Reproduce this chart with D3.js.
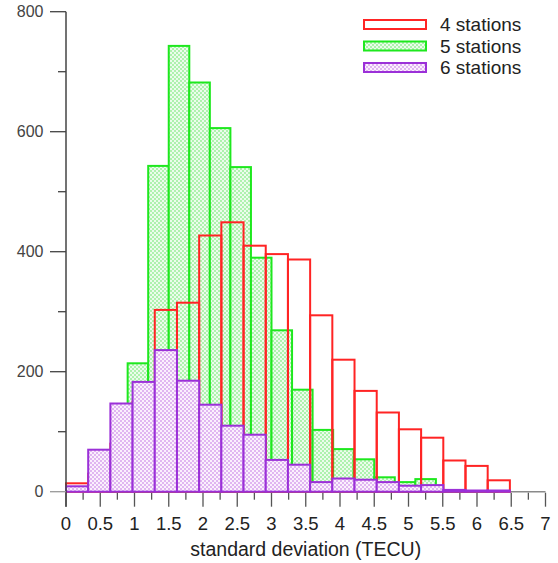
<!DOCTYPE html>
<html>
<head>
<meta charset="utf-8">
<script src="https://cdn.jsdelivr.net/npm/d3@7"></script>
<style>
  html, body { margin: 0; padding: 0; background: #fff; }
  svg { display: block; }
  text { font-family: "Liberation Sans", Arial, sans-serif; }
</style>
</head>
<body>
<svg id="chart" width="558" height="563"></svg>
<script>
// ---- data ----
const edges4and6 = [0, 0.324, 0.648, 0.972, 1.296, 1.62, 1.944, 2.268, 2.592, 2.916, 3.24,
                    3.564, 3.888, 4.212, 4.536, 4.86, 5.184, 5.508, 5.832, 6.156, 6.48];
const edges5 = [0.6, 0.9, 1.2, 1.5, 1.8, 2.1, 2.4, 2.7, 3.0, 3.3, 3.6, 3.9, 4.2, 4.5, 4.8,
                5.1, 5.4, 5.7, 6.0, 6.3];
const stations4 = [14, 30, 80, 150, 303, 315, 427, 449, 410, 396, 387, 294, 220, 168, 132, 104, 90, 52, 43, 19];
const stations5 = [2, 214, 543, 743, 682, 606, 541, 390, 269, 170, 103, 71, 54, 24, 16, 21, 1, 1, 1];
const stations6 = [9, 70, 147, 183, 236, 185, 145, 110, 95, 53, 45, 16, 22, 20, 16, 10, 11, 3, 2, 2];
const seriesNames = ["4 stations", "5 stations", "6 stations"];
const xTickValues = d3.range(0, 7.001, 0.25);
const xTickLabels = ["0", "0.5", "1", "1.5", "2", "2.5", "3", "3.5", "4", "4.5", "5", "5.5", "6", "6.5", "7"];
const yTickValues = d3.range(0, 801, 100);
const yTickLabels = ["0", "200", "400", "600", "800"];
const xTitle = "standard deviation (TECU)";

// ---- layout ----
const svg = d3.select("#chart");
const x = d3.scaleLinear().domain([0, 7]).range([66, 545.5]);
const y = d3.scaleLinear().domain([0, 800]).range([491.7, 11.7]);

const defs = svg.append("defs");
function checkerPattern(id, light, dark) {
  const p = defs.append("pattern").attr("id", id).attr("patternUnits", "userSpaceOnUse")
    .attr("width", 4).attr("height", 4);
  p.append("rect").attr("width", 4).attr("height", 4).attr("fill", light);
  p.append("rect").attr("x", 0).attr("y", 0).attr("width", 2).attr("height", 2).attr("fill", dark);
  p.append("rect").attr("x", 2).attr("y", 2).attr("width", 2).attr("height", 2).attr("fill", dark);
}
checkerPattern("pGreen", "#ecfcec", "#aef2ae");
checkerPattern("pPurple", "#fbf0fd", "#e0b6f1");

const colors = {
  red: "#ff2424",
  green: "#1ee81e",
  purple: "#9b30d8"
};

function toBins(edges, vals) {
  return vals.map((v, i) => ({ x0: edges[i], x1: edges[i + 1], v }));
}

function drawBars(cls, bins, fill, stroke) {
  svg.append("g").attr("class", cls)
    .selectAll("rect").data(bins).join("rect")
    .attr("x", d => x(d.x0))
    .attr("y", d => y(d.v))
    .attr("width", d => x(d.x1) - x(d.x0))
    .attr("height", d => y(0) - y(d.v))
    .attr("fill", fill)
    .attr("stroke", stroke)
    .attr("stroke-width", 2);
}

// x axis line (under bars)
const xAxisG = svg.append("g");
xAxisG.append("line").attr("x1", x(0)).attr("x2", x(7)).attr("y1", y(0)).attr("y2", y(0))
  .attr("stroke", "#8a8a8a").attr("stroke-width", 1.5);

drawBars("green", toBins(edges5, stations5), "url(#pGreen)", colors.green);
drawBars("red", toBins(edges4and6, stations4), "none", colors.red);
drawBars("purple", toBins(edges4and6, stations6), "url(#pPurple)", colors.purple);

// x ticks
xAxisG.selectAll(".xt").data(xTickValues).join("line")
  .attr("x1", d => x(d)).attr("x2", d => x(d))
  .attr("y1", y(0) + 1).attr("y2", (d, i) => y(0) + (i % 2 === 0 ? 15 : 8))
  .attr("stroke", "#555").attr("stroke-width", 1.3);
xAxisG.selectAll(".xl").data(xTickLabels).join("text")
  .attr("x", (d, i) => x(i * 0.5)).attr("y", 530)
  .attr("text-anchor", "middle").attr("font-size", 18.5).attr("fill", "#222")
  .text(d => d);
svg.append("text").attr("x", (x(0) + x(7)) / 2).attr("y", 556)
  .attr("text-anchor", "middle").attr("font-size", 19.5).attr("fill", "#222")
  .text(xTitle);

// y axis
const yAxisG = svg.append("g");
yAxisG.append("line").attr("x1", x(0)).attr("x2", x(0)).attr("y1", y(800)).attr("y2", y(0) + 15)
  .attr("stroke", "#444").attr("stroke-width", 1.5);
yAxisG.selectAll(".yt").data(yTickValues).join("line")
  .attr("x1", (d, i) => x(0) - (i % 2 === 0 ? 16 : 8)).attr("x2", x(0))
  .attr("y1", d => y(d)).attr("y2", d => y(d))
  .attr("stroke", (d, i) => i === 0 ? "#999" : "#444").attr("stroke-width", 1.3);
yAxisG.selectAll(".yl").data(yTickLabels).join("text")
  .attr("x", 43.5).attr("y", (d, i) => y(i * 200)).attr("dy", "0.36em")
  .attr("text-anchor", "end").attr("font-size", 16).attr("fill", "#444")
  .text(d => d);

// legend
const legend = svg.append("g");
const legendItems = [
  { name: seriesNames[0], fill: "#fff", stroke: colors.red },
  { name: seriesNames[1], fill: "url(#pGreen)", stroke: colors.green },
  { name: seriesNames[2], fill: "url(#pPurple)", stroke: colors.purple }
];
legendItems.forEach((it, i) => {
  const cy = 24.5 + i * 21.5;
  legend.append("rect").attr("x", 364).attr("y", cy - 4.5).attr("width", 62).attr("height", 9)
    .attr("fill", it.fill).attr("stroke", it.stroke).attr("stroke-width", 2);
  legend.append("text").attr("x", 440).attr("y", cy).attr("dy", "0.36em")
    .attr("font-size", 19).attr("fill", "#222").text(it.name);
});
</script>
</body>
</html>
